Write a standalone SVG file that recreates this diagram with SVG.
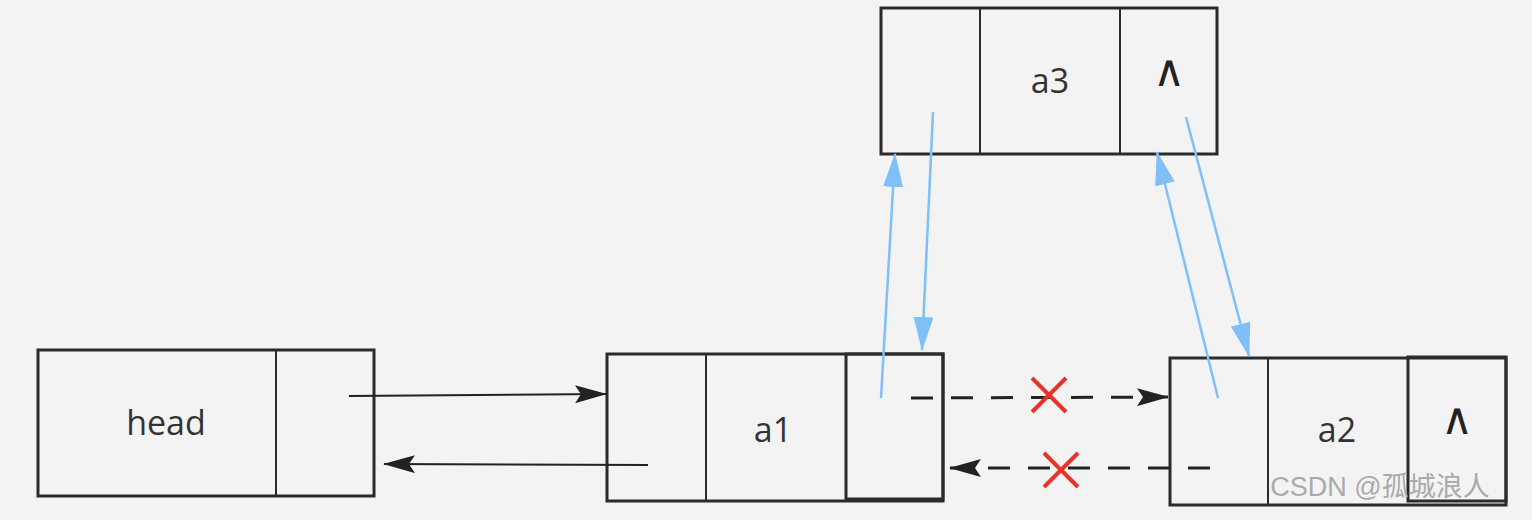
<svg xmlns="http://www.w3.org/2000/svg" width="1532" height="520" viewBox="0 0 1532 520">
<style>
.box{fill:none;stroke:#2b2b2b;stroke-width:3}
.div{stroke:#2b2b2b;stroke-width:2}
.t{font-family:"Open Sans","Noto Sans",sans-serif;font-size:34px;fill:#333;text-anchor:middle}
.c{font-family:"DejaVu Sans",sans-serif;font-size:44px;fill:#222;text-anchor:middle}
.k{stroke:#222;stroke-width:2;fill:none}
.d{stroke:#222;stroke-width:3;fill:none;stroke-dasharray:22 18}
.b{stroke:#7fc0f8;stroke-width:2.5;fill:none}
.x{stroke:#e8332a;stroke-width:4}
</style>
<defs>
<marker id="ak2" markerWidth="32" markerHeight="18" refX="31" refY="9" orient="auto" markerUnits="userSpaceOnUse" viewBox="0 0 32 18"><path d="M0,0 L32,9 L0,18 L6,9z" fill="#222"/></marker>
<marker id="ab" markerWidth="34" markerHeight="20" refX="33" refY="10" orient="auto" markerUnits="userSpaceOnUse" viewBox="0 0 34 20"><path d="M0,0 L34,10 L0,20z" fill="#7fc0f8"/></marker>
</defs>
<rect width="1532" height="520" fill="#f3f3f3"/>
<g id="head"><rect class="box" x="38" y="350" width="336" height="146"/><line class="div" x1="276" y1="350" x2="276" y2="496"/><text class="t" x="166" y="435">head</text></g>
<g id="a1"><rect class="box" x="607" y="354" width="336" height="147"/><line class="div" x1="706" y1="354" x2="706" y2="501"/><rect class="box" x="846" y="354" width="97" height="145"/><text class="t" x="773" y="442">a1</text></g>
<g id="a2"><rect class="box" x="1170" y="358" width="336" height="147"/><line class="div" x1="1268" y1="358" x2="1268" y2="505"/><rect class="box" x="1408" y="357" width="98" height="144"/><text class="t" x="1337" y="442">a2</text><text class="c" x="1457" y="434">∧</text></g>
<g id="a3"><rect class="box" x="881" y="8" width="336" height="146"/><line class="div" x1="980" y1="8" x2="980" y2="154"/><line class="div" x1="1120" y1="8" x2="1120" y2="154"/><text class="t" x="1050" y="93">a3</text><text class="c" x="1169" y="86">∧</text></g>
<g id="connectors">
<line class="k" x1="349" y1="396" x2="606" y2="394" marker-end="url(#ak2)"/>
<line class="k" x1="648" y1="465" x2="384" y2="464" marker-end="url(#ak2)"/>
<line class="d" x1="911" y1="398" x2="1168" y2="397" marker-end="url(#ak2)"/>
<line class="d" x1="1210" y1="468" x2="950" y2="468" marker-end="url(#ak2)"/>
<line class="b" x1="881" y1="398" x2="895" y2="154" marker-end="url(#ab)"/>
<line class="b" x1="933" y1="112" x2="922" y2="350" marker-end="url(#ab)"/>
<line class="b" x1="1218" y1="398" x2="1157" y2="152" marker-end="url(#ab)"/>
<line class="b" x1="1186" y1="117" x2="1249" y2="356" marker-end="url(#ab)"/>
<path class="x" d="M1032,378 L1066,412 M1066,378 L1032,412 M1044,453 L1078,487 M1078,453 L1044,487"/>
</g>
<text x="1380" y="496" style="font-family:'Liberation Sans','Noto Sans CJK SC',sans-serif;font-size:27px;fill:#aaa;text-anchor:middle">CSDN @孤城浪人</text>
</svg>
